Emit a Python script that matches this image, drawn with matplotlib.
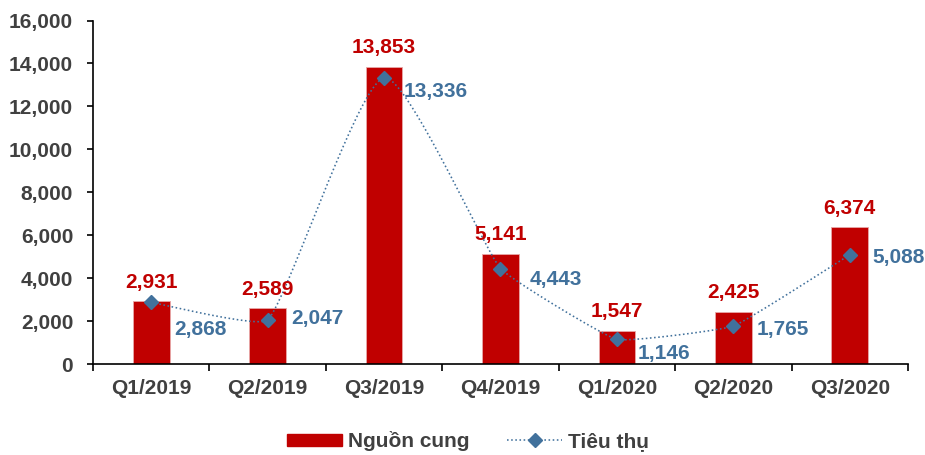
import matplotlib
matplotlib.use("Agg")
import matplotlib.pyplot as plt
import numpy as np
from matplotlib.ticker import FuncFormatter, FixedLocator
from matplotlib.lines import Line2D
from matplotlib.patches import Patch

categories = ["Q1/2019", "Q2/2019", "Q3/2019", "Q4/2019", "Q1/2020", "Q2/2020", "Q3/2020"]
supply = [2931, 2589, 13853, 5141, 1547, 2425, 6374]
consumption = [2868, 2047, 13336, 4443, 1146, 1765, 5088]
supply_name = "Nguồn cung"
consumption_name = "Tiêu thụ"

RED = "#C00000"
BLUE = "#41719C"
GREY = "#404040"
FS = 15

plt.rcParams['font.family'] = ['Liberation Sans', 'DejaVu Sans']
plt.rcParams['font.weight'] = 'bold'

fig = plt.figure(figsize=(9.25, 4.55), dpi=100)
ax = fig.add_axes([93/925, 1 - 364/455, (908-93)/925, (364-20.5)/455])

x = np.arange(len(categories))
ax.bar(x, supply, width=0.315, color=RED, edgecolor="#E8A8A8", linewidth=0.6, zorder=2)

ax.set_xlim(-0.5, len(categories) - 0.5)
ax.set_ylim(0, 16000)


def smooth_screen(xs, ys, k=0.1, n=40):
    """Smoothed line computed in screen space, tangent length tied to segment length."""
    P = ax.transData.transform(np.column_stack([xs, ys]).astype(float))
    out = [P[0]]
    for i in range(len(P) - 1):
        p1, p2 = P[i], P[i + 1]
        L = np.linalg.norm(p2 - p1)
        p0 = P[i - 1] if i > 0 else p1
        p3 = P[i + 2] if i + 2 < len(P) else p2
        t1 = p2 - p0
        t2 = p3 - p1
        t1 = t1 / np.linalg.norm(t1)
        t2 = t2 / np.linalg.norm(t2)
        c1 = p1 + t1 * L * k
        c2 = p2 - t2 * L * k
        t = np.linspace(0, 1, n)[1:, None]
        seg = ((1 - t) ** 3) * p1 + 3 * ((1 - t) ** 2) * t * c1 + 3 * (1 - t) * t ** 2 * c2 + t ** 3 * p2
        out.extend(seg)
    out = ax.transData.inverted().transform(np.array(out))
    return out[:, 0], out[:, 1]


sx, sy = smooth_screen(x, consumption)
ax.plot(sx, sy, linestyle=(0, (1, 1.6)), color=BLUE, linewidth=1.15, zorder=3)
ax.plot(x, consumption, linestyle='none', marker="D", markersize=6.8,
        markerfacecolor=BLUE, markeredgecolor=BLUE, zorder=4)

ax.set_yticks(np.arange(0, 16001, 2000))
ax.yaxis.set_major_formatter(FuncFormatter(lambda v, p: f"{int(v):,}"))
ax.set_xticks(x)
ax.set_xticklabels(categories)
ax.tick_params(axis='x', length=0, pad=11, labelsize=FS, labelcolor=GREY)
ax.xaxis.set_minor_locator(FixedLocator(np.arange(-0.5, len(categories), 1.0)))
ax.tick_params(axis='x', which='minor', length=5, direction='out', color='black', width=1.2)
ax.tick_params(axis='y', length=4.3, direction='out', labelsize=FS, labelcolor=GREY, width=1.2, pad=10)
for s in ['top', 'right']:
    ax.spines[s].set_visible(False)
for s in ['left', 'bottom']:
    ax.spines[s].set_linewidth(1.2)
for lbl in ax.get_xticklabels() + ax.get_yticklabels():
    lbl.set_fontweight('bold')

# supply labels above bars (pixel offset of baseline)
for xi, v in zip(x, supply):
    ax.annotate(f"{v:,}", (xi, v), xytext=(0, 13.5), textcoords='offset pixels',
                ha='center', va='baseline', color=RED, fontsize=FS, fontweight='bold')

# consumption label offsets (pixels: left edge dx, text-centre dy downward)
cons_offsets = [(23, 25), (24, -4), (20, 12), (29, 9), (21, 12), (23, 1), (23, 1)]
for xi, v, (dx, dy) in zip(x, consumption, cons_offsets):
    ax.annotate(f"{v:,}", (xi, v), xytext=(dx, -dy - 7.5), textcoords='offset pixels',
                ha='left', va='baseline', color=BLUE, fontsize=FS, fontweight='bold')

handles = [Patch(facecolor=RED, edgecolor=RED),
           Line2D([], [], linestyle=(0, (1, 1.6)), color=BLUE, linewidth=1.15,
                  marker='D', markersize=6.8, markerfacecolor=BLUE, markeredgecolor=BLUE)]
leg = fig.legend(handles, [supply_name, consumption_name], loc='center',
                 bbox_to_anchor=(468/925, 1 - 441/455), ncol=2,
                 frameon=False, fontsize=FS, handlelength=2.65, handleheight=0.5,
                 columnspacing=1.8, handletextpad=0.3)
for t in leg.get_texts():
    t.set_color(GREY)
    t.set_fontweight('bold')

fig.savefig("out.png", dpi=100)
